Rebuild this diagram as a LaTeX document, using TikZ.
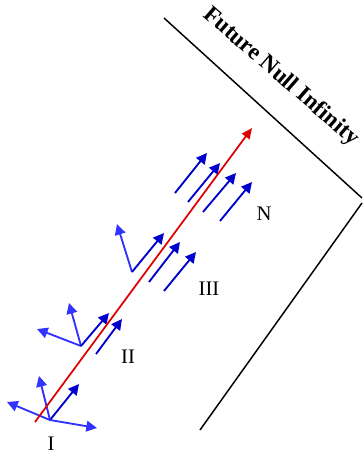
\documentclass[tikz,border=0pt]{standalone}
\usepackage{fontspec}
\setmainfont{Liberation Serif}
\usetikzlibrary{arrows.meta}

\definecolor{framelight}{RGB}{51,51,255}
\definecolor{framedark}{RGB}{0,0,204}
\definecolor{rayred}{RGB}{221,0,0}

\begin{document}
\begin{tikzpicture}[x=0.75pt, y=-0.75pt,
    vec/.style={line width=1.4pt, -{Triangle[length=8pt,width=8pt]}},
    lightvec/.style={vec, draw=framelight},
    darkvec/.style={vec, draw=framedark},
    lbl/.style={inner sep=0pt, font=\fontsize{15.5}{18}\selectfont}]
  \useasboundingbox (0,0) rectangle (362,453);

  % boundary of the diagram
  \coordinate (top) at (164,18);
  \coordinate (corner) at (362,198);
  \coordinate (cornerlow) at (362,203);
  \coordinate (bottom) at (200,430);
  \draw[line width=1.1pt] (top) -- (corner);
  \draw[line width=1.1pt] (cornerlow) -- (bottom);
  \node[rotate=-41, font=\bfseries\fontsize{17.5}{20}\selectfont] (scri) at (281,77) {Future Null Infinity};

  % frame I
  \coordinate (oI) at (50,420);
  \coordinate (I1) at (7,402);
  \coordinate (I2) at (39,376);
  \coordinate (I3) at (79,384);
  \coordinate (I4) at (97,428);
  \draw[lightvec] (oI) -- (I1);
  \draw[lightvec] (oI) -- (I2);
  \draw[darkvec]  (oI) -- (I3);
  \draw[lightvec] (oI) -- (I4);

  % frame II
  \coordinate (oII) at (81,346);
  \coordinate (II1) at (37,329);
  \coordinate (II2) at (69,303);
  \coordinate (II3) at (109,313);
  \coordinate (sII) at (96,354);
  \coordinate (II4) at (122,319);
  \draw[lightvec] (oII) -- (II1);
  \draw[lightvec] (oII) -- (II2);
  \draw[darkvec]  (oII) -- (II3);
  \draw[darkvec]  (sII) -- (II4);

  % frame III
  \coordinate (oIII) at (132,272);
  \coordinate (III1) at (117,224);
  \coordinate (III2) at (164,233);
  \coordinate (sIIIa) at (149,282);
  \coordinate (III3) at (180,242);
  \coordinate (sIIIb) at (164,291);
  \coordinate (III4) at (196,252);
  \draw[lightvec] (oIII) -- (III1);
  \draw[darkvec]  (oIII) -- (III2);
  \draw[darkvec]  (sIIIa) -- (III3);
  \draw[darkvec]  (sIIIb) -- (III4);

  % frame N, all vectors along the ray
  \foreach \i/\sx/\sy/\tx/\ty in {1/175/193/207/153, 2/188/202/220/163,
                                  3/203/212/236/173, 4/220/221/252/182} {
    \coordinate (sN\i) at (\sx,\sy);
    \coordinate (N\i) at (\tx,\ty);
    \draw[darkvec] (sN\i) -- (N\i);
  }

  % null ray
  \coordinate (raystart) at (35,422);
  \coordinate (rayend) at (252,128);
  \draw[rayred, line width=1.3pt, -{Triangle[length=8pt,width=7pt]}] (raystart) -- (rayend);

  % labels
  \node[lbl] (labI) at (51,444) {I};
  \node[lbl] (labII) at (128,357) {II};
  \node[lbl] (labIII) at (209,289) {III};
  \node[lbl] (labN) at (264,214) {N};
\end{tikzpicture}
\end{document}
